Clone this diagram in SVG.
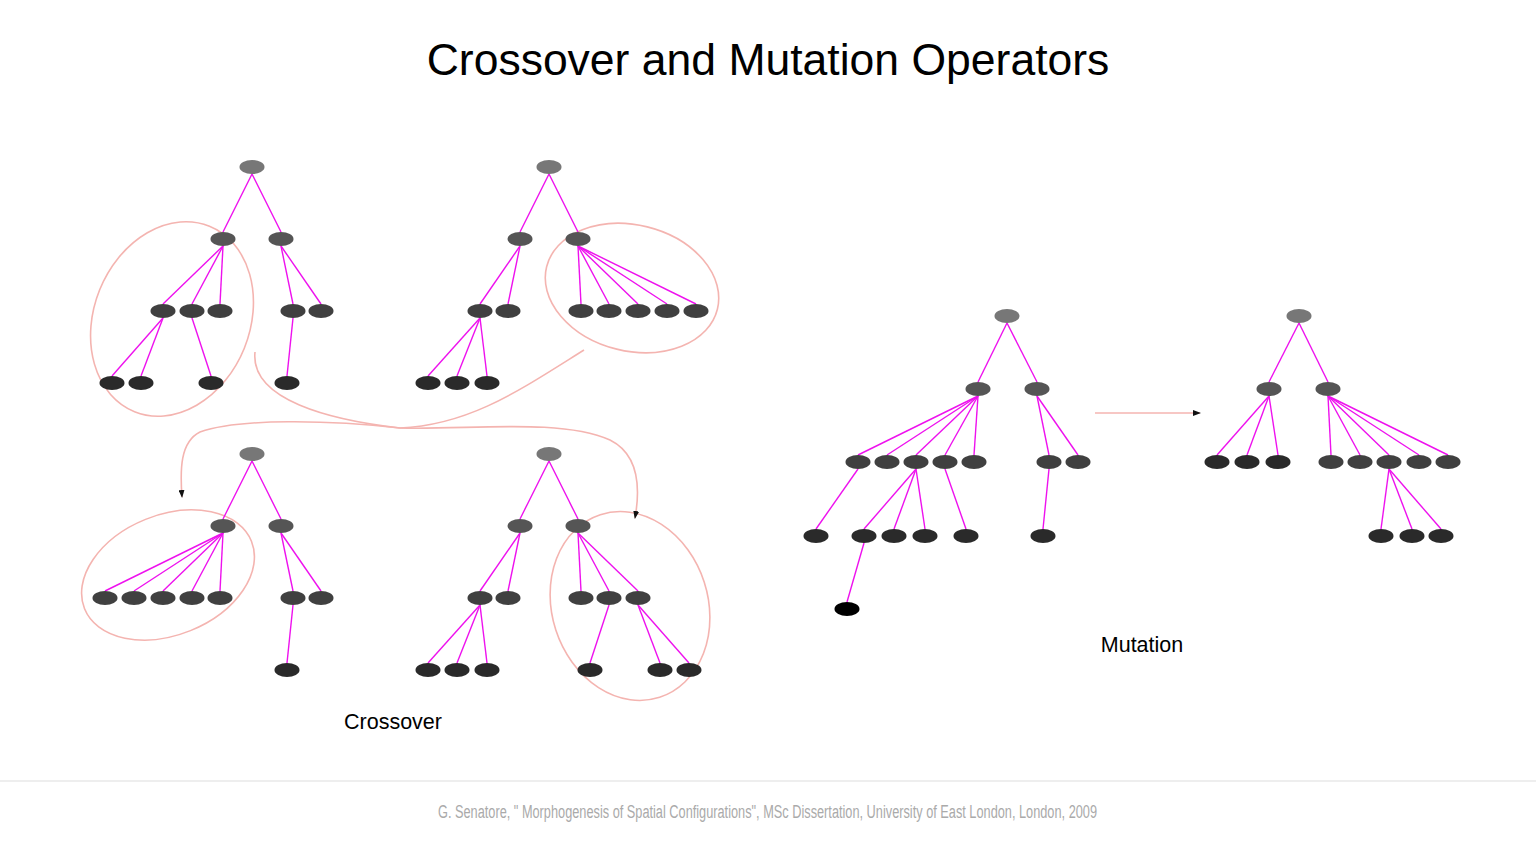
<svg xmlns="http://www.w3.org/2000/svg" width="1536" height="864" viewBox="0 0 1536 864">
<style>
.e line{stroke:#ee11ee;stroke-width:1.4}
.r{fill:#777}.a{fill:#555}.b{fill:#404040}.c{fill:#2a2a2a}.d{fill:#000}
.p{fill:none;stroke:#f4b4b0;stroke-width:1.6}
text{font-family:"Liberation Sans",Arial,sans-serif}
</style>
<defs><marker id="ah" markerWidth="8" markerHeight="6" refX="7" refY="3" orient="auto" markerUnits="userSpaceOnUse"><path d="M0,0L8,3L0,6z" fill="#111"/></marker></defs>
<rect width="1536" height="864" fill="#fff"/>
<text x="768" y="75" font-size="44.5" text-anchor="middle">Crossover and Mutation Operators</text>
<g id="pink" class="p">
<ellipse cx="172" cy="319" rx="78" ry="100" transform="rotate(22 172 319)"/>
<ellipse cx="632" cy="288" rx="88" ry="63" transform="rotate(14 632 288)"/>
<ellipse cx="168" cy="575" rx="90" ry="60" transform="rotate(-22 168 575)"/>
<ellipse cx="630" cy="606" rx="78" ry="96" transform="rotate(-18 630 606)"/>
<path d="M255,352 C250,400 330,420 400,428 C470,425 520,390 584,350"/>
<path d="M400,428 C330,420 240,418 200,432 C180,442 180,470 182,497" marker-end="url(#ah)"/>
<path d="M400,428 C470,430 560,418 610,440 C640,455 640,490 635,518" marker-end="url(#ah)"/>
<line x1="1095" y1="413" x2="1200" y2="413" marker-end="url(#ah)"/>
</g>
<g id="connectors" class="e">
<line x1="252" y1="174" x2="223" y2="232"/><line x1="252" y1="174" x2="281" y2="232"/>
<line x1="223" y1="246" x2="163" y2="304"/><line x1="223" y1="246" x2="192" y2="304"/><line x1="223" y1="246" x2="220" y2="304"/>
<line x1="281" y1="246" x2="293" y2="304"/><line x1="281" y1="246" x2="321" y2="304"/>
<line x1="163" y1="318" x2="112" y2="376"/><line x1="163" y1="318" x2="141" y2="376"/><line x1="192" y1="318" x2="211" y2="376"/><line x1="293" y1="318" x2="287" y2="376"/>
<line x1="549" y1="174" x2="520" y2="232"/><line x1="549" y1="174" x2="578" y2="232"/>
<line x1="520" y1="246" x2="480" y2="304"/><line x1="520" y1="246" x2="508" y2="304"/>
<line x1="578" y1="246" x2="581" y2="304"/><line x1="578" y1="246" x2="609" y2="304"/><line x1="578" y1="246" x2="638" y2="304"/><line x1="578" y1="246" x2="667" y2="304"/><line x1="578" y1="246" x2="696" y2="304"/>
<line x1="480" y1="318" x2="428" y2="376"/><line x1="480" y1="318" x2="457" y2="376"/><line x1="480" y1="318" x2="487" y2="376"/>
<line x1="252" y1="461" x2="223" y2="519"/><line x1="252" y1="461" x2="281" y2="519"/>
<line x1="223" y1="533" x2="105" y2="591"/><line x1="223" y1="533" x2="134" y2="591"/><line x1="223" y1="533" x2="163" y2="591"/><line x1="223" y1="533" x2="192" y2="591"/><line x1="223" y1="533" x2="220" y2="591"/>
<line x1="281" y1="533" x2="293" y2="591"/><line x1="281" y1="533" x2="321" y2="591"/><line x1="293" y1="605" x2="287" y2="663"/>
<line x1="549" y1="461" x2="520" y2="519"/><line x1="549" y1="461" x2="578" y2="519"/>
<line x1="520" y1="533" x2="480" y2="591"/><line x1="520" y1="533" x2="508" y2="591"/>
<line x1="578" y1="533" x2="581" y2="591"/><line x1="578" y1="533" x2="609" y2="591"/><line x1="578" y1="533" x2="638" y2="591"/>
<line x1="480" y1="605" x2="428" y2="663"/><line x1="480" y1="605" x2="457" y2="663"/><line x1="480" y1="605" x2="487" y2="663"/>
<line x1="609" y1="605" x2="590" y2="663"/><line x1="638" y1="605" x2="660" y2="663"/><line x1="638" y1="605" x2="689" y2="663"/>
<line x1="1007" y1="323" x2="978" y2="382"/><line x1="1007" y1="323" x2="1037" y2="382"/>
<line x1="978" y1="396" x2="858" y2="455"/><line x1="978" y1="396" x2="887" y2="455"/><line x1="978" y1="396" x2="916" y2="455"/><line x1="978" y1="396" x2="945" y2="455"/><line x1="978" y1="396" x2="974" y2="455"/>
<line x1="1037" y1="396" x2="1049" y2="455"/><line x1="1037" y1="396" x2="1078" y2="455"/>
<line x1="858" y1="469" x2="816" y2="529"/><line x1="916" y1="469" x2="864" y2="529"/><line x1="916" y1="469" x2="894" y2="529"/><line x1="916" y1="469" x2="925" y2="529"/>
<line x1="945" y1="469" x2="966" y2="529"/><line x1="1049" y1="469" x2="1043" y2="529"/><line x1="864" y1="543" x2="847" y2="602"/>
<line x1="1299" y1="323" x2="1269" y2="382"/><line x1="1299" y1="323" x2="1328" y2="382"/>
<line x1="1269" y1="396" x2="1217" y2="455"/><line x1="1269" y1="396" x2="1247" y2="455"/><line x1="1269" y1="396" x2="1278" y2="455"/>
<line x1="1328" y1="396" x2="1331" y2="455"/><line x1="1328" y1="396" x2="1360" y2="455"/><line x1="1328" y1="396" x2="1389" y2="455"/><line x1="1328" y1="396" x2="1419" y2="455"/><line x1="1328" y1="396" x2="1448" y2="455"/>
<line x1="1389" y1="469" x2="1381" y2="529"/><line x1="1389" y1="469" x2="1412" y2="529"/><line x1="1389" y1="469" x2="1441" y2="529"/>
</g>
<g id="treeA">
<ellipse class="r" cx="252" cy="167" rx="12.5" ry="7"/>
<ellipse class="a" cx="223" cy="239" rx="12.5" ry="7"/><ellipse class="a" cx="281" cy="239" rx="12.5" ry="7"/>
<ellipse class="b" cx="163" cy="311" rx="12.5" ry="7"/><ellipse class="b" cx="192" cy="311" rx="12.5" ry="7"/><ellipse class="b" cx="220" cy="311" rx="12.5" ry="7"/><ellipse class="b" cx="293" cy="311" rx="12.5" ry="7"/><ellipse class="b" cx="321" cy="311" rx="12.5" ry="7"/>
<ellipse class="c" cx="112" cy="383" rx="12.5" ry="7"/><ellipse class="c" cx="141" cy="383" rx="12.5" ry="7"/><ellipse class="c" cx="211" cy="383" rx="12.5" ry="7"/><ellipse class="c" cx="287" cy="383" rx="12.5" ry="7"/>
</g>
<g id="treeB">
<ellipse class="r" cx="549" cy="167" rx="12.5" ry="7"/>
<ellipse class="a" cx="520" cy="239" rx="12.5" ry="7"/><ellipse class="a" cx="578" cy="239" rx="12.5" ry="7"/>
<ellipse class="b" cx="480" cy="311" rx="12.5" ry="7"/><ellipse class="b" cx="508" cy="311" rx="12.5" ry="7"/><ellipse class="b" cx="581" cy="311" rx="12.5" ry="7"/><ellipse class="b" cx="609" cy="311" rx="12.5" ry="7"/><ellipse class="b" cx="638" cy="311" rx="12.5" ry="7"/><ellipse class="b" cx="667" cy="311" rx="12.5" ry="7"/><ellipse class="b" cx="696" cy="311" rx="12.5" ry="7"/>
<ellipse class="c" cx="428" cy="383" rx="12.5" ry="7"/><ellipse class="c" cx="457" cy="383" rx="12.5" ry="7"/><ellipse class="c" cx="487" cy="383" rx="12.5" ry="7"/>
</g>
<g id="treeC">
<ellipse class="r" cx="252" cy="454" rx="12.5" ry="7"/>
<ellipse class="a" cx="223" cy="526" rx="12.5" ry="7"/><ellipse class="a" cx="281" cy="526" rx="12.5" ry="7"/>
<ellipse class="b" cx="105" cy="598" rx="12.5" ry="7"/><ellipse class="b" cx="134" cy="598" rx="12.5" ry="7"/><ellipse class="b" cx="163" cy="598" rx="12.5" ry="7"/><ellipse class="b" cx="192" cy="598" rx="12.5" ry="7"/><ellipse class="b" cx="220" cy="598" rx="12.5" ry="7"/><ellipse class="b" cx="293" cy="598" rx="12.5" ry="7"/><ellipse class="b" cx="321" cy="598" rx="12.5" ry="7"/>
<ellipse class="c" cx="287" cy="670" rx="12.5" ry="7"/>
</g>
<g id="treeD">
<ellipse class="r" cx="549" cy="454" rx="12.5" ry="7"/>
<ellipse class="a" cx="520" cy="526" rx="12.5" ry="7"/><ellipse class="a" cx="578" cy="526" rx="12.5" ry="7"/>
<ellipse class="b" cx="480" cy="598" rx="12.5" ry="7"/><ellipse class="b" cx="508" cy="598" rx="12.5" ry="7"/><ellipse class="b" cx="581" cy="598" rx="12.5" ry="7"/><ellipse class="b" cx="609" cy="598" rx="12.5" ry="7"/><ellipse class="b" cx="638" cy="598" rx="12.5" ry="7"/>
<ellipse class="c" cx="428" cy="670" rx="12.5" ry="7"/><ellipse class="c" cx="457" cy="670" rx="12.5" ry="7"/><ellipse class="c" cx="487" cy="670" rx="12.5" ry="7"/><ellipse class="c" cx="590" cy="670" rx="12.5" ry="7"/><ellipse class="c" cx="660" cy="670" rx="12.5" ry="7"/><ellipse class="c" cx="689" cy="670" rx="12.5" ry="7"/>
</g>
<g id="treeE">
<ellipse class="r" cx="1007" cy="316" rx="12.5" ry="7"/>
<ellipse class="a" cx="978" cy="389" rx="12.5" ry="7"/><ellipse class="a" cx="1037" cy="389" rx="12.5" ry="7"/>
<ellipse class="b" cx="858" cy="462" rx="12.5" ry="7"/><ellipse class="b" cx="887" cy="462" rx="12.5" ry="7"/><ellipse class="b" cx="916" cy="462" rx="12.5" ry="7"/><ellipse class="b" cx="945" cy="462" rx="12.5" ry="7"/><ellipse class="b" cx="974" cy="462" rx="12.5" ry="7"/><ellipse class="b" cx="1049" cy="462" rx="12.5" ry="7"/><ellipse class="b" cx="1078" cy="462" rx="12.5" ry="7"/>
<ellipse class="c" cx="816" cy="536" rx="12.5" ry="7"/><ellipse class="c" cx="864" cy="536" rx="12.5" ry="7"/><ellipse class="c" cx="894" cy="536" rx="12.5" ry="7"/><ellipse class="c" cx="925" cy="536" rx="12.5" ry="7"/><ellipse class="c" cx="966" cy="536" rx="12.5" ry="7"/><ellipse class="c" cx="1043" cy="536" rx="12.5" ry="7"/>
<ellipse class="d" cx="847" cy="609" rx="12.5" ry="7"/>
</g>
<g id="treeF">
<ellipse class="r" cx="1299" cy="316" rx="12.5" ry="7"/>
<ellipse class="a" cx="1269" cy="389" rx="12.5" ry="7"/><ellipse class="a" cx="1328" cy="389" rx="12.5" ry="7"/>
<ellipse class="c" cx="1217" cy="462" rx="12.5" ry="7"/><ellipse class="c" cx="1247" cy="462" rx="12.5" ry="7"/><ellipse class="c" cx="1278" cy="462" rx="12.5" ry="7"/>
<ellipse class="b" cx="1331" cy="462" rx="12.5" ry="7"/><ellipse class="b" cx="1360" cy="462" rx="12.5" ry="7"/><ellipse class="b" cx="1389" cy="462" rx="12.5" ry="7"/><ellipse class="b" cx="1419" cy="462" rx="12.5" ry="7"/><ellipse class="b" cx="1448" cy="462" rx="12.5" ry="7"/>
<ellipse class="c" cx="1381" cy="536" rx="12.5" ry="7"/><ellipse class="c" cx="1412" cy="536" rx="12.5" ry="7"/><ellipse class="c" cx="1441" cy="536" rx="12.5" ry="7"/>
</g>
<text x="393" y="729" font-size="21.5" text-anchor="middle">Crossover</text>
<text x="1142" y="652" font-size="21.5" text-anchor="middle">Mutation</text>
<line x1="0" y1="781" x2="1536" y2="781" stroke="#ddd" stroke-width="1"/>
<text x="438" y="818" font-size="18" fill="#aaa" textLength="659" lengthAdjust="spacingAndGlyphs">G. Senatore, " Morphogenesis of Spatial Configurations", MSc Dissertation, University of East London, London, 2009</text>
</svg>
